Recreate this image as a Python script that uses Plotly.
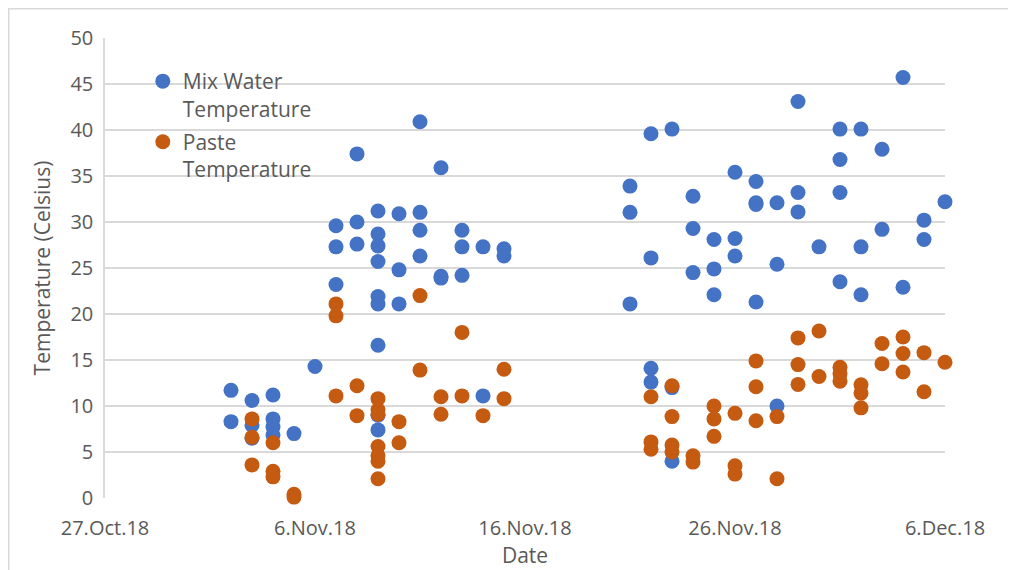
import plotly.graph_objects as go

# ---- data ----
mix_dates = (
    ["2018-11-02"] * 2 + ["2018-11-03"] * 3 + ["2018-11-04"] * 4 + ["2018-11-05"] * 1
    + ["2018-11-06"] * 1 + ["2018-11-07"] * 3 + ["2018-11-08"] * 3 + ["2018-11-09"] * 9
    + ["2018-11-10"] * 3 + ["2018-11-11"] * 4 + ["2018-11-12"] * 3 + ["2018-11-13"] * 3
    + ["2018-11-14"] * 2 + ["2018-11-15"] * 2
    + ["2018-11-21"] * 3 + ["2018-11-22"] * 4 + ["2018-11-23"] * 3 + ["2018-11-24"] * 3
    + ["2018-11-25"] * 3 + ["2018-11-26"] * 3 + ["2018-11-27"] * 4 + ["2018-11-28"] * 3
    + ["2018-11-29"] * 3 + ["2018-11-30"] * 1 + ["2018-12-01"] * 4 + ["2018-12-02"] * 3
    + ["2018-12-03"] * 2 + ["2018-12-04"] * 2 + ["2018-12-05"] * 2 + ["2018-12-06"] * 1
)
mix_temps = [
    11.7, 8.3,
    10.6, 7.9, 6.5,
    11.2, 8.6, 7.75, 6.85,
    7.0,
    14.3,
    29.6, 27.3, 23.2,
    37.4, 30.0, 27.6,
    31.2, 28.7, 27.4, 25.7, 21.9, 21.1, 16.6, 9.0, 7.4,
    30.9, 24.8, 21.1,
    40.9, 31.05, 29.1, 26.3,
    35.9, 24.1, 23.9,
    29.1, 27.3, 24.2,
    27.3, 11.1,
    27.1, 26.3,
    33.9, 31.05, 21.1,
    39.6, 26.1, 14.1, 12.6,
    40.1, 12.0, 4.0,
    32.8, 29.3, 24.5,
    28.1, 24.9, 22.1,
    35.4, 28.2, 26.3,
    34.4, 32.1, 31.9, 21.3,
    32.1, 25.4, 10.0,
    43.1, 33.2, 31.1,
    27.3,
    40.1, 36.8, 33.2, 23.5,
    40.1, 27.3, 22.1,
    37.9, 29.2,
    45.7, 22.9,
    30.2, 28.1,
    32.2,
]

paste_dates = (
    ["2018-11-03"] * 3 + ["2018-11-04"] * 3 + ["2018-11-05"] * 2 + ["2018-11-07"] * 3
    + ["2018-11-08"] * 2 + ["2018-11-09"] * 7 + ["2018-11-10"] * 2 + ["2018-11-11"] * 2
    + ["2018-11-12"] * 2 + ["2018-11-13"] * 2 + ["2018-11-14"] * 1 + ["2018-11-15"] * 2
    + ["2018-11-22"] * 3 + ["2018-11-23"] * 4 + ["2018-11-24"] * 2 + ["2018-11-25"] * 3
    + ["2018-11-26"] * 3 + ["2018-11-27"] * 3 + ["2018-11-28"] * 2 + ["2018-11-29"] * 3
    + ["2018-11-30"] * 2 + ["2018-12-01"] * 3 + ["2018-12-02"] * 3 + ["2018-12-03"] * 2
    + ["2018-12-04"] * 3 + ["2018-12-05"] * 2 + ["2018-12-06"] * 1
)
paste_temps = [
    8.6, 6.6, 3.6,
    6.0, 2.9, 2.3,
    0.4, 0.1,
    21.1, 19.8, 11.1,
    12.2, 8.95,
    10.8, 9.6, 9.1, 5.6, 4.6, 4.0, 2.1,
    8.3, 6.0,
    22.0, 13.9,
    11.0, 9.1,
    18.0, 11.1,
    8.95,
    14.0, 10.8,
    11.0, 6.1, 5.3,
    12.2, 8.85, 5.75, 5.0,
    4.6, 3.9,
    10.0, 8.6, 6.7,
    9.2, 3.5, 2.6,
    14.9, 12.1, 8.4,
    8.85, 2.1,
    17.4, 14.5, 12.35,
    18.15, 13.2,
    14.2, 13.5, 12.7,
    12.3, 11.4, 9.8,
    16.8, 14.6,
    17.5, 15.7, 13.7,
    15.8, 11.55,
    14.75,
]

x_tick_vals = ["2018-10-27", "2018-11-06", "2018-11-16", "2018-11-26", "2018-12-06"]
x_tick_text = ["27.Oct.18", "6.Nov.18", "16.Nov.18", "26.Nov.18", "6.Dec.18"]
y_tick_vals = [0, 5, 10, 15, 20, 25, 30, 35, 40, 45, 50]

series_names = ["Mix Water<br>Temperature", "Paste<br>Temperature"]
series_colors = ["#4472C4", "#C55A11"]

FONT = "Open Sans"
GREY = "#595959"
GRID = "#D9D9D9"

# page has an 8px body margin, so the figure is sized to fit inside it
W, H = 1008, 562
ML, MR, MT, MB = 97, 71, 30, 72
PW, PH = W - ML - MR, H - MT - MB

fig = go.Figure()
fig.add_trace(go.Scatter(
    x=mix_dates, y=mix_temps, mode="markers", name=series_names[0],
    legendgroup="mix",
    marker=dict(size=15, color=series_colors[0]), cliponaxis=False,
))
fig.add_trace(go.Scatter(
    x=paste_dates, y=paste_temps, mode="markers", name=series_names[1],
    legendgroup="paste",
    marker=dict(size=15, color=series_colors[1]), cliponaxis=False,
))

fig.update_layout(
    width=W, height=H,
    margin=dict(l=ML, r=MR, t=MT, b=MB),
    paper_bgcolor="white", plot_bgcolor="white",
    font=dict(family=FONT, size=20, color=GREY),
    showlegend=True,
    legend=dict(
        x=0.045, y=0.95, xanchor="left", yanchor="top",
        bgcolor="rgba(0,0,0,0)", font=dict(family=FONT, size=21, color=GREY),
        valign="top", tracegroupgap=3, itemwidth=30,
    ),
    xaxis=dict(
        type="date", range=["2018-10-27", "2018-12-06"],
        tickvals=x_tick_vals, ticktext=x_tick_text,
        showgrid=False, zeroline=False, showline=False,
        ticks="", tickfont=dict(size=20, color=GREY), ticklabelstandoff=16,
        title=dict(text="Date", font=dict(size=21, color=GREY), standoff=2),
    ),
    yaxis=dict(
        range=[0, 50], tickvals=y_tick_vals,
        showgrid=True, gridcolor=GRID, gridwidth=1.5,
        zeroline=False, showline=True, linecolor=GRID, linewidth=1.5,
        ticks="", tickfont=dict(size=20, color=GREY), ticklabelstandoff=6,
        title=dict(text="Temperature (Celsius)", font=dict(size=21, color=GREY), standoff=14),
    ),
    shapes=[dict(
        type="rect", xref="paper", yref="paper",
        x0=(0.75 - ML) / PW, x1=1.2, y0=-0.3, y1=1 + (MT - 0.75) / PH,
        line=dict(color=GRID, width=1.5), fillcolor="rgba(0,0,0,0)", layer="below",
    )],
)

fig.write_html("out.html")
